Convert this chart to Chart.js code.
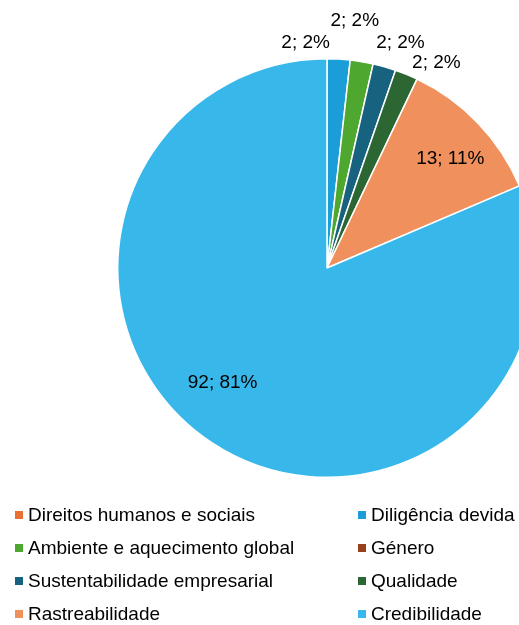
<!DOCTYPE html>
<html>
<head>
<meta charset="utf-8">
<script src="https://cdn.jsdelivr.net/npm/chart.js@4/dist/chart.umd.min.js"></script>
<style>
  html, body { margin: 0; padding: 0; background: #fff; }
  #wrap { position: relative; width: 519px; height: 625px; overflow: hidden; font-family: "Liberation Sans", Arial, sans-serif; }
  #pieBox { position: absolute; left: 0; top: 0; width: 560px; height: 490px; }
  #legend { position: absolute; left: 0; top: 0; width: 519px; height: 625px; }
  .item { position: absolute; font-size: 19px; color: #000; white-space: nowrap; line-height: 22px; }
  .item i { position: absolute; left: -13px; top: 7px; width: 8px; height: 8px; }
</style>
</head>
<body>
<div id="wrap">
  <div id="pieBox"><canvas id="pie" width="560" height="490"></canvas></div>
  <div id="legend"></div>
</div>
<script>
// categorias e contagens
const categories = [
  'Direitos humanos e sociais', 'Diligência devida', 'Ambiente e aquecimento global', 'Género',
  'Sustentabilidade empresarial', 'Qualidade', 'Rastreabilidade', 'Credibilidade'
];
const counts = [0, 2, 2, 0, 2, 2, 13, 92];
const percents = [0, 2, 2, 0, 2, 2, 11, 81];
const colors = ['#E97132', '#1B9DD8', '#4EA72E', '#9A3F1C', '#17627F', '#2C6633', '#F0905C', '#38B8EA'];

// posição dos rótulos: fração do raio + ajuste em px
const labelPlace = [
  [1, 0, 0], [1, -33, -16], [1, -7, -41], [1, 0, 0],
  [1, 16, -24], [1, 30, -12], [0.79, 4, 5], [0.74, -19, -14]
];

const valueLabels = {
  id: 'valueLabels',
  afterDatasetsDraw(chart) {
    const ctx = chart.ctx;
    const meta = chart.getDatasetMeta(0);
    ctx.save();
    ctx.font = '19px "Liberation Sans", Arial, sans-serif';
    ctx.fillStyle = '#000';
    ctx.textAlign = 'center';
    ctx.textBaseline = 'middle';
    meta.data.forEach((arc, i) => {
      if (!counts[i]) return;
      const p = arc.getProps(['x', 'y', 'startAngle', 'endAngle', 'outerRadius'], true);
      const mid = (p.startAngle + p.endAngle) / 2;
      const r = p.outerRadius * labelPlace[i][0];
      const x = p.x + Math.cos(mid) * r + labelPlace[i][1];
      const y = p.y + Math.sin(mid) * r + labelPlace[i][2];
      ctx.fillText(counts[i] + '; ' + percents[i] + '%', x, y);
    });
    ctx.restore();
  }
};

new Chart(document.getElementById('pie'), {
  type: 'pie',
  data: {
    labels: categories,
    datasets: [{
      data: counts,
      backgroundColor: colors,
      borderColor: '#fff',
      borderWidth: 1.5
    }]
  },
  options: {
    responsive: false,
    animation: false,
    layout: { padding: { left: 117, right: 23, top: 58, bottom: 12 } },
    plugins: {
      legend: { display: false },
      tooltip: { enabled: false }
    }
  },
  plugins: [valueLabels]
});

// legenda em duas colunas
const legend = document.getElementById('legend');
categories.forEach((name, i) => {
  const el = document.createElement('div');
  el.className = 'item';
  el.style.left = (i % 2 ? 371 : 28) + 'px';
  el.style.top = (504 + Math.floor(i / 2) * 33) + 'px';
  el.innerHTML = '<i style="background:' + colors[i] + '"></i>' + name;
  legend.appendChild(el);
});
</script>
</body>
</html>
